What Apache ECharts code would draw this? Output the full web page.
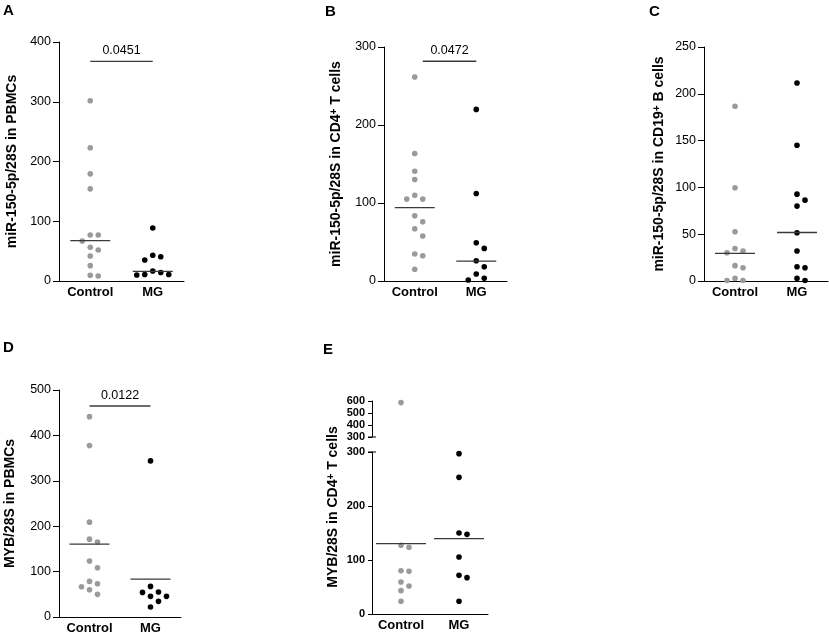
<!DOCTYPE html>
<html>
<head>
<meta charset="utf-8">
<script src="https://cdn.jsdelivr.net/npm/echarts@6/dist/echarts.min.js"></script>
<style>
  html, body { margin: 0; padding: 0; background: #fff; }
  #chart { width: 829px; height: 636px; }
</style>
</head>
<body>
<div id="chart"></div>
<script>
// groups on every x axis
const groups = ['Control', 'MG'];

// A: miR-150-5p/28S in PBMCs
const ctlA = [301.7, 222.9, 179.3, 154.2, 77, 77, 67, 56.4, 52, 41.9, 25.7, 9.5, 8.4];
const mgA = [88.8, 43, 40.7, 35.2, 16.8, 14.3, 11, 11, 10];
const lineA = [67.5, 16];

// B: miR-150-5p/28S in CD4+ T cells
const ctlB = [261.6, 163.4, 140.8, 130.1, 110, 105, 105, 83.6, 76, 67, 57.6, 34.6, 32.4, 15];
const mgB = [220, 112.2, 49, 41.8, 26, 18.3, 9, 3.4, 1.3];
const lineB = [94, 25.6];

// C: miR-150-5p/28S in CD19+ B cells
const ctlC = [186.7, 99.6, 52.6, 34.8, 32, 30.2, 16.4, 14.2, 2.8, 0.5, 0.5];
const mgC = [211.6, 145, 92.8, 86.4, 80, 51.6, 32, 15.3, 14.2, 2.8, 0.5];
const lineC = [29.5, 51.8];

// D: MYB/28S in PBMCs
const ctlD = [441.3, 377.5, 208.9, 171.5, 165, 123.2, 108.5, 78.4, 73.3, 66.7, 60.1, 49.9];
const mgD = [343.8, 67.4, 55, 54.2, 45.5, 45.5, 34.5, 22];
const lineD = [160.4, 83.5];

// E: MYB/28S in CD4+ T cells (broken axis at 300)
const ctlE = [586.5, 127.2, 123.5, 80.2, 79, 59.3, 51.9, 43.2, 23.5];
const mgE = [296.9, 253.1, 150, 147.5, 105.6, 71.6, 67.3, 23.5];
const lineE = [130.4, 139.4];
const breakAt = 300;

// p values over the brackets
const sigA = { y: 367.5, text: '0.0451' };
const sigB = { y: 281.7, text: '0.0472' };
const sigD = { y: 464.8, text: '0.0122' };

const FONT = 'Liberation Sans, Arial, Helvetica, sans-serif';
const GRAY = '#9a9a9a';
const BLACK = '#000';
const LINE_C = '#3a3a3a';
const DOT_R = 2.8;
const SPACING = 8;

// simple beeswarm: spread points sideways when they would overlap
function swarm(vals, cat, api) {
    const pts = vals.map(v => api.coord([cat, v]));
    const order = vals.map((v, i) => i).sort((a, b) => vals[b] - vals[a]);
    const placed = [];
    const off = [];
    order.forEach(i => {
        const tries = [0, 1, -1, 2, -2, 3, -3];
        for (let t = 0; t < tries.length; t++) {
            const x = pts[i][0] + tries[t] * SPACING, y = pts[i][1];
            if (placed.every(p => Math.hypot(p[0] - x, p[1] - y) >= SPACING)) {
                off[i] = tries[t];
                placed.push([x, y]);
                break;
            }
        }
        if (off[i] === undefined) off[i] = 0;
    });
    return off;
}

function dots(axis, cat, vals, color) {
    return {
        type: 'custom', xAxisIndex: axis, yAxisIndex: axis, silent: true, z: 3,
        data: vals.map(v => [cat, v]),
        renderItem: function (params, api) {
            const off = swarm(vals, cat, api);
            const i = params.dataIndex;
            const p = api.coord([cat, vals[i]]);
            return { type: 'circle', shape: { cx: p[0] + off[i] * SPACING, cy: p[1], r: DOT_R }, style: { fill: color } };
        }
    };
}

function centreLines(axis, vals, half) {
    return {
        type: 'custom', xAxisIndex: axis, yAxisIndex: axis, silent: true, z: 4,
        data: vals.map((v, i) => [i, v]),
        renderItem: function (params, api) {
            const p = api.coord([params.dataIndex, vals[params.dataIndex]]);
            return { type: 'line', shape: { x1: p[0] - half, y1: p[1], x2: p[0] + half, y2: p[1] },
                     style: { stroke: LINE_C, lineWidth: 1.3 } };
        }
    };
}

function bracket(axis, sig, startShift) {
    return {
        type: 'custom', xAxisIndex: axis, yAxisIndex: axis, silent: true, z: 4,
        data: [[0, sig.y]],
        renderItem: function (params, api) {
            const a = api.coord([0, sig.y]);
            const b = api.coord([1, sig.y]);
            const x1 = a[0] + (startShift || 0);
            return {
                type: 'group',
                children: [
                    { type: 'line', shape: { x1: x1, y1: a[1], x2: b[0], y2: b[1] },
                      style: { stroke: LINE_C, lineWidth: 1.3 } },
                    { type: 'text', style: { text: sig.text, x: (x1 + b[0]) / 2, y: a[1] - 4,
                      align: 'center', verticalAlign: 'bottom', font: '12.5px ' + FONT, fill: '#000' } }
                ]
            };
        }
    };
}

// little cross marks where the E axis is broken
function breakMark(axis) {
    return {
        type: 'custom', xAxisIndex: axis, yAxisIndex: axis, silent: true, z: 5,
        data: [[0, breakAt]],
        renderItem: function (params, api) {
            const y = api.coord([0, breakAt])[1];
            const x = params.coordSys.x;
            return { type: 'line', shape: { x1: x - 4, y1: y, x2: x + 4, y2: y },
                     style: { stroke: '#000', lineWidth: 1 } };
        }
    };
}

const titleRich = {
    t: { fontSize: 14, fontWeight: 'bold', fontFamily: FONT, color: '#000' },
    s: { fontSize: 10, fontWeight: 'bold', fontFamily: FONT, color: '#000', verticalAlign: 'top' }
};

function xAx(grid, show) {
    return {
        type: 'category', gridIndex: grid, data: groups, show: show,
        axisLine: { lineStyle: { color: '#000', width: 1 } },
        axisTick: { alignWithLabel: true, length: 4, lineStyle: { color: '#000' } },
        axisLabel: { margin: 5, color: '#000', fontSize: 13, fontWeight: 'bold', fontFamily: FONT, interval: 0 }
    };
}

function yAx(grid, max, interval, name, gap, opts) {
    opts = opts || {};
    return {
        type: 'value', gridIndex: grid, min: opts.min || 0, max: max, interval: interval,
        name: name, nameLocation: 'middle', nameGap: gap, nameRotate: 90,
        nameTextStyle: { rich: titleRich, fontSize: 14, fontWeight: 'bold', fontFamily: FONT, color: '#000' },
        axisLine: { show: true, lineStyle: { color: '#000', width: 1 } },
        axisTick: { show: true, length: opts.tick || 6, lineStyle: { color: '#000' } },
        splitLine: { show: false },
        axisLabel: { margin: opts.margin || 8, color: '#000', fontSize: opts.fs || 12.5,
                     fontWeight: opts.bold ? 'bold' : 'normal', fontFamily: FONT }
    };
}

const letter = (t, l, tp) => ({ text: t, left: l, top: tp, padding: 0,
    textStyle: { fontSize: 15, fontWeight: 'bold', fontFamily: FONT, color: '#000' } });

const option = {
    backgroundColor: '#fff',
    animation: false,
    title: [letter('A', 3, 3), letter('B', 325, 4), letter('C', 649, 4), letter('D', 3, 340), letter('E', 323, 342)],
    grid: [
        { left: 59, top: 42, width: 125, height: 239 },
        { left: 384, top: 47, width: 123, height: 234 },
        { left: 704, top: 47, width: 124, height: 234 },
        { left: 59, top: 390, width: 122, height: 227 },
        { left: 372, top: 452, width: 116, height: 162 },
        { left: 372, top: 401, width: 116, height: 36 }
    ],
    xAxis: [xAx(0, true), xAx(1, true), xAx(2, true), xAx(3, true), xAx(4, true), xAx(5, false)],
    yAxis: [
        yAx(0, 400, 100, '{t|miR-150-5p/28S in PBMCs}', 40),
        yAx(1, 300, 100, '{t|miR-150-5p/28S in CD4}{s|+}{t| T cells}', 41),
        yAx(2, 250, 50, '{t|miR-150-5p/28S in CD19}{s|+}{t| B cells}', 38),
        yAx(3, 500, 100, '{t|MYB/28S in PBMCs}', 42),
        yAx(4, breakAt, 100, '', 30, { bold: true, fs: 11, tick: 4, margin: 7 }),
        yAx(5, 600, 100, '', 30, { min: breakAt, bold: true, fs: 11, tick: 4, margin: 7 })
    ],
    graphic: [{
        type: 'text', x: 333, y: 507, rotation: Math.PI / 2,
        style: { rich: titleRich, text: '{t|MYB/28S in CD4}{s|+}{t| T cells}', align: 'center', verticalAlign: 'middle' }
    }],
    series: [
        dots(0, 0, ctlA, GRAY), dots(0, 1, mgA, BLACK), centreLines(0, lineA, 20), bracket(0, sigA, 0),
        dots(1, 0, ctlB, GRAY), dots(1, 1, mgB, BLACK), centreLines(1, lineB, 20), bracket(1, sigB, 8),
        dots(2, 0, ctlC, GRAY), dots(2, 1, mgC, BLACK), centreLines(2, lineC, 20),
        dots(3, 0, ctlD, GRAY), dots(3, 1, mgD, BLACK), centreLines(3, lineD, 20), bracket(3, sigD, 0),
        dots(4, 0, ctlE.filter(v => v <= breakAt), GRAY), dots(4, 1, mgE.filter(v => v <= breakAt), BLACK),
        dots(5, 0, ctlE.filter(v => v > breakAt), GRAY), dots(5, 1, mgE.filter(v => v > breakAt), BLACK),
        centreLines(4, lineE, 25), breakMark(4), breakMark(5)
    ]
};

const chart = echarts.init(document.getElementById('chart'), null, { renderer: 'canvas' });
chart.setOption(option);
window.addEventListener('resize', () => chart.resize());
</script>
</body>
</html>
